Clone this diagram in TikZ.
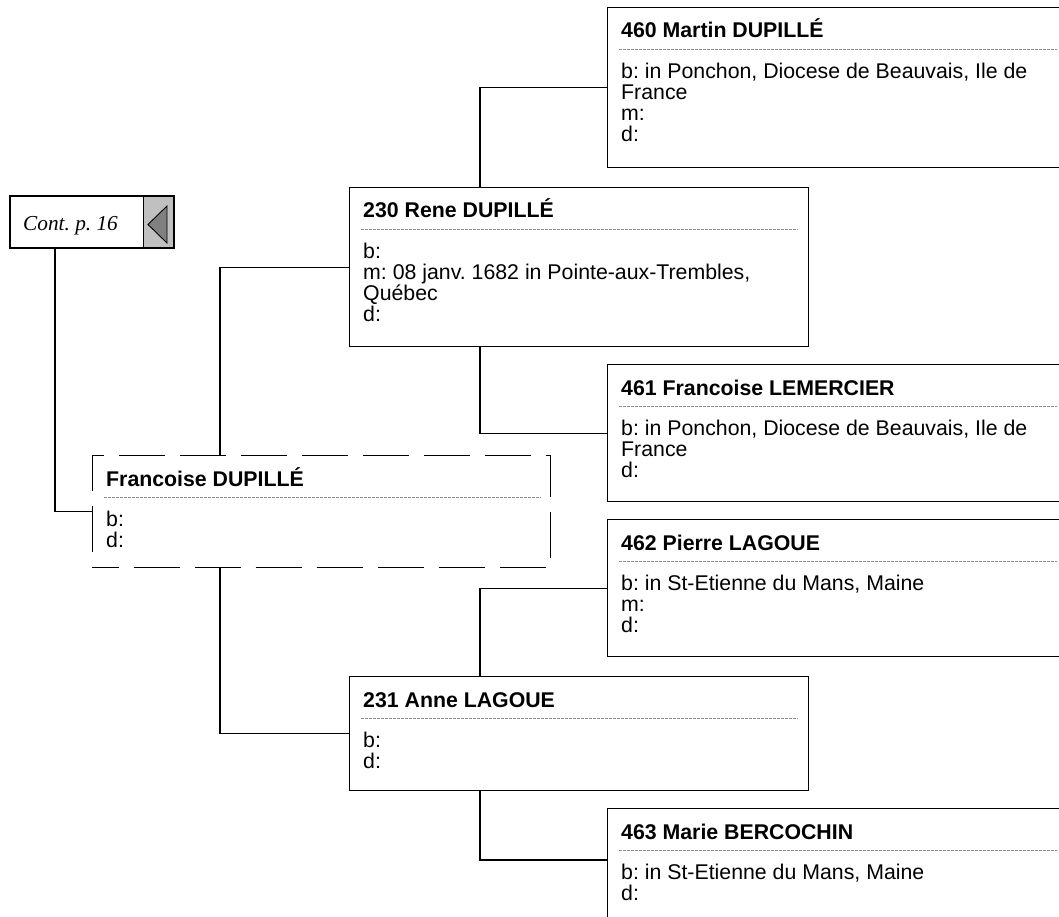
\documentclass[tikz,border=0pt]{standalone}
\usepackage{fontspec}
\setmainfont{Liberation Sans}
\newfontfamily\contfont{Liberation Serif}
\usepackage{tikz}
\usetikzlibrary{positioning,calc}
\usepackage{xcolor}
\definecolor{tabgray}{HTML}{C0C0C0}
\definecolor{arrowgray}{HTML}{808080}
\definecolor{sepgray}{HTML}{8C8C8C}

\newcommand{\cardsize}{\fontsize{21.3pt}{21pt}\selectfont\frenchspacing}
\newcommand{\firstline}{\rule{0pt}{17pt}}
% header, dotted rule and facts inside a card
\newcommand{\cardtext}[3]{%
  \node[hdr] (#1-h) at ([xshift=14pt,yshift=-31pt]#1.north west) {#2};
  \draw[sep] ([xshift=12pt,yshift=-42pt]#1.north west) -- ([xshift=-11pt,yshift=-42pt]#1.north east);
  \node[facts] (#1-b) at ([xshift=14pt,yshift=-54pt]#1.north west) {\firstline#3};
}

\begin{document}
\begin{tikzpicture}[
  x=1pt, y=-1pt,
  card/.style={draw, line width=1.1pt, inner sep=0pt, anchor=north west,
               minimum width=459pt},
  hdr/.style={anchor=base west, inner sep=0pt, font=\cardsize\bfseries},
  facts/.style={anchor=north west, inner sep=0pt, align=left, font=\cardsize},
  sep/.style={sepgray, line width=0.7pt, dash pattern=on 2.5pt off 1.5pt},
  link/.style={line width=1.1pt}
]
  \clip (0,0) rectangle (1059,917);

  % continuation tab
  \node[draw, line width=2pt, inner sep=0pt, anchor=north west,
        minimum width=164pt, minimum height=52pt,
        path picture={
          \fill[tabgray] ([xshift=-31pt]path picture bounding box.north east)
             rectangle (path picture bounding box.south east);
          \draw[line width=0.8pt] ([xshift=-31pt]path picture bounding box.north east)
             -- ([xshift=-31pt]path picture bounding box.south east);
          \draw[fill=arrowgray, line width=0.9pt]
             ([xshift=-26pt,yshift=-2.5pt]path picture bounding box.east)
             -- ([xshift=-7pt,yshift=16pt]path picture bounding box.east)
             -- ([xshift=-7pt,yshift=-21pt]path picture bounding box.east) -- cycle;
        }] (cont) at (9,195) {};
  \node[anchor=base west, inner sep=0pt, font=\contfont\itshape\cardsize] (contlbl) at (23,230) {Cont. p. 16};

  % cards
  \node[card, minimum width=460pt, minimum height=160pt] (p460) at (607,7) {};
  \node[card, minimum height=159pt] (p230) at (349,187) {};
  \node[card, minimum width=460pt, minimum height=137pt] (p461) at (607,364) {};
  \node[draw, line width=1.1pt, dash pattern=on 46pt off 15pt, dash phase=20pt,
        inner sep=0pt, anchor=north west, minimum width=458pt, minimum height=112pt] (self) at (92,455) {};
  \node[card, minimum width=460pt, minimum height=137pt] (p462) at (607,519) {};
  \node[card, minimum height=114pt] (p231) at (349,676) {};
  \node[card, minimum width=460pt, minimum height=130pt] (p463) at (607,808) {};

  \cardtext{p460}{460 Martin DUPILLÉ}{b: in Ponchon, Diocese de Beauvais, Ile de\\France\\m:\\d:}
  \cardtext{p230}{230 Rene DUPILLÉ}{b:\\m: 08 janv. 1682 in Pointe-aux-Trembles,\\Québec\\d:}
  \cardtext{p461}{461 Francoise LEMERCIER}{b: in Ponchon, Diocese de Beauvais, Ile de\\France\\d:}
  \cardtext{self}{Francoise DUPILLÉ}{b:\\d:}
  \cardtext{p462}{462 Pierre LAGOUE}{b: in St-Etienne du Mans, Maine\\m:\\d:}
  \cardtext{p231}{231 Anne LAGOUE}{b:\\d:}
  \cardtext{p463}{463 Marie BERCOCHIN}{b: in St-Etienne du Mans, Maine\\d:}

  % links
  \draw[link] ([xshift=46pt]cont.south west) |- (self.west);
  \draw[link] ([xshift=128pt]self.north west) |- (p230.west);
  \draw[link] ([xshift=128pt]self.south west) |- (p231.west);
  \draw[link] ([xshift=131pt]p230.north west) |- (p460.west);
  \draw[link] ([xshift=131pt]p230.south west) |- (p461.west);
  \draw[link] ([xshift=131pt]p231.north west) |- (p462.west);
  \draw[link] ([xshift=131pt]p231.south west) |- ([yshift=-52pt]p463.north west);
\end{tikzpicture}
\end{document}
